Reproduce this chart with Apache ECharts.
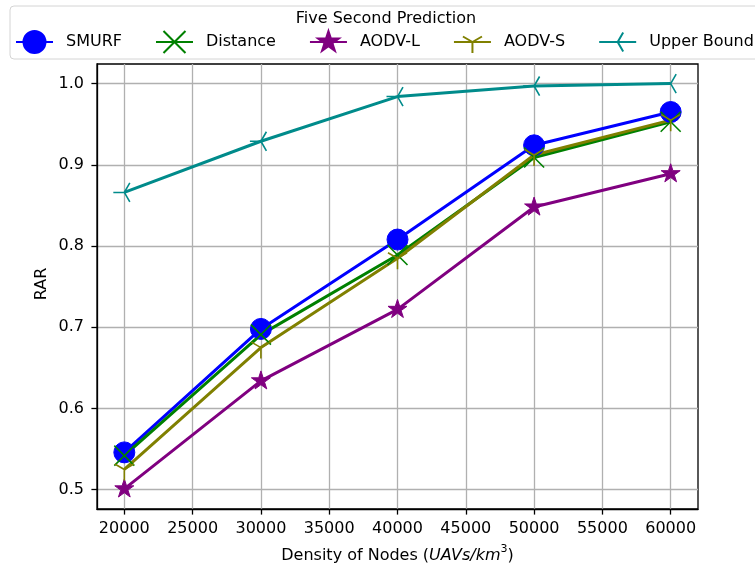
<!DOCTYPE html>
<html lang="en">

<head>
    <meta charset="UTF-8">
    <title>Five Second Prediction</title>
    <script src="https://cdn.jsdelivr.net/npm/echarts@6.0.0/dist/echarts.min.js"></script>
    <style>
        html, body { margin: 0; padding: 0; background: #fff; }
    </style>
</head>

<body>
    <div id="main" style="width: 755px;height: 569px;"></div>
    <script>
        // node densities (UAVs/km^3)
        var densities = [20000, 30000, 40000, 50000, 60000]
        var xTicks = [20000, 25000, 30000, 35000, 40000, 45000, 50000, 55000, 60000]
        var yTicks = [0.5, 0.6, 0.7, 0.8, 0.9, 1.0]

        // RAR
        var smurf = [0.546, 0.698, 0.808, 0.924, 0.965]
        var distance = [0.542, 0.691, 0.789, 0.909, 0.953]
        var aodvL = [0.501, 0.634, 0.722, 0.848, 0.889]
        var aodvS = [0.525, 0.675, 0.785, 0.912, 0.955]
        var upperBound = [0.866, 0.929, 0.984, 0.997, 1.000]

        // matplotlib-like marker shapes (boxes kept square with the two moveTo points)
        var SYM_X = 'path://M-1 -1M1 1M-1 -1L1 1M-1 1L1 -1'
        var SYM_TRI_DOWN = 'path://M-1 -1M1 1M0 0L0 1M0 0L-0.866 -0.5M0 0L0.866 -0.5'
        var SYM_TRI_LEFT = 'path://M-1 -1M1 1M0 0L-1 0M0 0L0.5 -0.866M0 0L0.5 0.866'
        var SYM_STAR = 'path://M-1 -1M1 1M0 -1L0.2245 -0.309L0.9511 -0.309L0.3633 0.118L0.5878 0.809L0 0.382L-0.5878 0.809L-0.3633 0.118L-0.9511 -0.309L-0.2245 -0.309Z'

        function pairs(ys) {
            return densities.map(function(x, i) {
                return [x, ys[i]]
            })
        }

        function makeSeries(name, ys, color, symbol, size, filled) {
            return {
                name: name,
                type: 'line',
                data: pairs(ys),
                symbol: symbol,
                symbolSize: size,
                showAllSymbol: true,
                lineStyle: { width: 3, color: color },
                itemStyle: {
                    color: filled ? color : 'rgba(0,0,0,0)',
                    borderColor: color,
                    borderWidth: filled ? 1 : 1.6
                },
                emphasis: { disabled: true }
            }
        }

        var mCharts = echarts.init(document.getElementById('main'))

        var option = {
            animation: false,
            textStyle: { fontFamily: 'DejaVu Sans' },
            graphic: [{
                type: 'rect',
                shape: { x: 10, y: 6, width: 760, height: 53, r: 4 },
                style: { fill: 'rgba(255,255,255,0.8)', stroke: '#d4d4d4', lineWidth: 1 },
                z: 0
            }, {
                type: 'text',
                x: 386,
                y: 19,
                style: {
                    text: 'Five Second Prediction',
                    font: '16px "DejaVu Sans"',
                    fill: '#000',
                    align: 'center',
                    verticalAlign: 'middle'
                },
                z: 1
            }, {
                // y axis title
                type: 'text',
                x: 42,
                y: 284,
                rotation: Math.PI / 2,
                style: {
                    text: 'RAR',
                    font: '16px "DejaVu Sans"',
                    fill: '#000',
                    align: 'center',
                    verticalAlign: 'middle'
                },
                z: 1
            }],
            legend: {
                left: 15,
                top: 30,
                itemWidth: 37,
                itemHeight: 27.5,
                itemGap: 33,
                padding: 0,
                textStyle: { fontSize: 16, color: '#000', padding: [0, 0, 0, 8] },
                data: ['SMURF', 'Distance', 'AODV-L', 'AODV-S', 'Upper Bound']
            },
            grid: {
                left: 97,
                top: 64,
                width: 601,
                height: 447,
                show: true,
                borderColor: '#000',
                borderWidth: 1.3,
                backgroundColor: 'transparent'
            },
            xAxis: {
                type: 'value',
                min: 18000,
                max: 62000,
                name: '{n|Density of Nodes (}{i|UAVs/km}{s|3}{n|)}',
                nameLocation: 'middle',
                nameGap: 35,
                nameTextStyle: {
                    fontSize: 16,
                    color: '#000',
                    rich: {
                        n: { fontSize: 16, verticalAlign: 'bottom' },
                        i: { fontSize: 16, fontStyle: 'italic', verticalAlign: 'bottom' },
                        s: { fontSize: 11, verticalAlign: 'bottom', padding: [0, 0, 9, 0] }
                    }
                },
                axisLine: { show: true, lineStyle: { color: '#000', width: 1.3 } },
                axisTick: { show: true, length: 5.6, lineStyle: { color: '#000', width: 1.3 }, customValues: xTicks },
                axisLabel: {
                    fontSize: 16,
                    color: '#000',
                    margin: 12,
                    customValues: xTicks,
                    formatter: function(v) {
                        return String(v)
                    }
                },
                splitLine: { show: true, lineStyle: { color: '#b0b0b0', width: 1.3 } }
            },
            yAxis: {
                type: 'value',
                min: 0.4763,
                max: 1.0241,
                axisLine: { show: true, lineStyle: { color: '#000', width: 1.3 } },
                axisTick: { show: true, length: 5.6, lineStyle: { color: '#000', width: 1.3 }, customValues: yTicks },
                axisLabel: {
                    fontSize: 16,
                    color: '#000',
                    margin: 13,
                    customValues: yTicks,
                    formatter: function(v) {
                        return v.toFixed(1)
                    }
                },
                splitLine: { show: true, lineStyle: { color: '#b0b0b0', width: 1.3 } }
            },
            series: [
                makeSeries('SMURF', smurf, '#0000ff', 'circle', 21, true),
                makeSeries('Distance', distance, '#008000', SYM_X, 20, false),
                makeSeries('AODV-L', aodvL, '#800080', SYM_STAR, 20, true),
                makeSeries('AODV-S', aodvS, '#808000', SYM_TRI_DOWN, 22, false),
                makeSeries('Upper Bound', upperBound, '#008b8b', SYM_TRI_LEFT, 22, false)
            ]
        }
        mCharts.setOption(option)
    </script>
</body>

</html>
